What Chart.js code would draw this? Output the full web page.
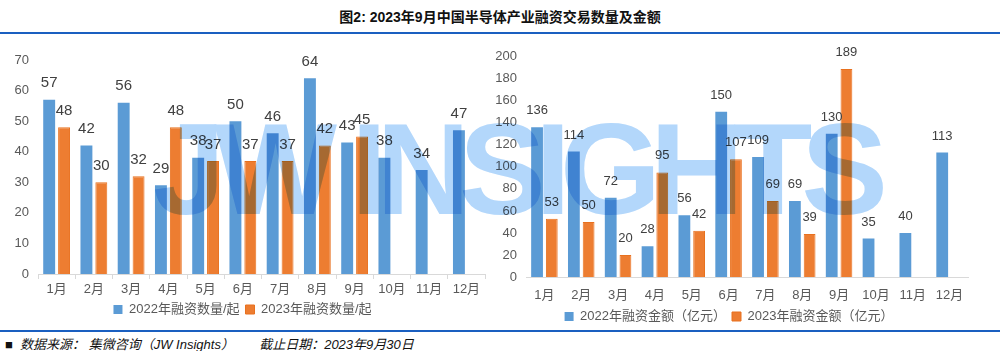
<!DOCTYPE html>
<html>
<head>
<meta charset="utf-8">
<script src="https://cdn.jsdelivr.net/npm/chart.js@4.4.0/dist/chart.umd.min.js"></script>
<style>
  html, body { margin: 0; padding: 0; background: #fff; }
  body { width: 1000px; height: 351px; position: relative; overflow: hidden;
         font-family: "Liberation Sans", "Noto Sans CJK SC", sans-serif; }
  #title { position: absolute; top: 6px; left: 0; width: 1000px; text-align: center;
           font-size: 14px; font-weight: bold; color: #111; }
  .rule { position: absolute; left: 0; width: 1000px; height: 2px; background: #1a5fc0; }
  #left { position: absolute; left: 0; top: 40px; }
  #right { position: absolute; left: 490px; top: 40px; }
  #footer { position: absolute; left: 5px; top: 334px; font-size: 13px; font-style: italic; color: #111; white-space: pre; }
  #mark { position: absolute; left: 153px; top: 104px; font-size: 130px; line-height: 1; font-weight: bold;
          letter-spacing: -11px; color: #b3d7fb; mix-blend-mode: multiply; pointer-events: none; white-space: pre; }
</style>
</head>
<body>
<div id="title">图2: 2023年9月中国半导体产业融资交易数量及金额</div>
<div class="rule" style="top:32px"></div>
<canvas id="left" width="490" height="286"></canvas>
<canvas id="right" width="510" height="293"></canvas>
<div class="rule" style="top:330px"></div>
<div id="footer"><span style="font-style:normal">■</span>  数据来源： 集微咨询（JW Insights）       截止日期：2023年9月30日</div>
<div id="mark">JW INSIGHTS</div>
<script>
const months = ['1月', '2月', '3月', '4月', '5月', '6月', '7月', '8月', '9月', '10月', '11月', '12月'];
const count2022 = [57, 42, 56, 29, 38, 50, 46, 64, 43, 38, 34, 47];
const count2023 = [48, 30, 32, 48, 37, 37, 37, 42, 45, null, null, null];
const amount2022 = [136, 114, 72, 28, 56, 150, 109, 69, 130, 35, 40, 113];
const amount2023 = [53, 50, 20, 95, 42, 107, 69, 39, 189, null, null, null];

const BLUE = '#5b9bd5';
const ORANGE = '#ed7d31';
const FONT = '"Liberation Sans", "Noto Sans CJK SC", sans-serif';

// value labels above each bar
const valueLabels = {
    id: 'valueLabels',
    afterDatasetsDraw(chart, args, opts) {
        const ctx = chart.ctx;
        ctx.save();
        ctx.font = opts.size + 'px ' + FONT;
        ctx.fillStyle = '#404040';
        ctx.textAlign = 'center';
        ctx.textBaseline = 'bottom';
        chart.data.datasets.forEach((ds, i) => {
            chart.getDatasetMeta(i).data.forEach((bar, j) => {
                if (ds.data[j] == null) return;
                ctx.fillText(ds.data[j], bar.x, bar.y - opts.gap);
            });
        });
        ctx.restore();
    }
};

function makeChart(id, labels, a, b, names, yMax, yStep, opts) {
    return new Chart(document.getElementById(id), {
        type: 'bar',
        data: {
            labels: labels,
            datasets: [
                { label: names[0], data: a, backgroundColor: BLUE, borderWidth: 0 },
                { label: names[1], data: b, backgroundColor: ORANGE, borderColor: '#e8711f', borderWidth: 1 }
            ]
        },
        options: {
            responsive: false,
            animation: false,
            categoryPercentage: 0.8,
            barPercentage: 0.8,
            layout: { padding: opts.padding },
            plugins: {
                legend: {
                    position: 'bottom',
                    labels: { boxWidth: 9, boxHeight: 9, padding: 6, color: '#595959', font: { family: FONT, size: 13 } }
                },
                tooltip: { enabled: false },
                valueLabels: { size: opts.labelSize, gap: opts.gap }
            },
            scales: {
                x: {
                    grid: { display: true, drawOnChartArea: false, drawTicks: opts.xTicks, tickLength: 5, color: '#d9d9d9' },
                    border: { display: true, color: '#d9d9d9' },
                    ticks: { color: '#595959', padding: opts.xPad, font: { family: FONT, size: 13 } },
                    afterFit(scale) { scale.height = opts.xHeight; }
                },
                y: {
                    min: 0, max: yMax,
                    grid: { display: false, drawTicks: false },
                    border: { display: false },
                    ticks: { stepSize: yStep, color: '#595959', padding: 9, font: { family: FONT, size: 13 } },
                    afterFit(scale) { scale.width = opts.yWidth; }
                }
            }
        },
        plugins: [valueLabels]
    });
}

makeChart('left', months, count2022, count2023, ['2022年融资数量/起', '2023年融资数量/起'], 70, 10,
    { padding: { left: 0, right: 5, top: 20, bottom: 0 }, labelSize: 15, gap: 9, xTicks: true, xPad: 3, xHeight: 23, yWidth: 38 });

makeChart('right', months, amount2022, amount2023, ['2022年融资金额（亿元）', '2023年融资金额（亿元）'], 200, 20,
    { padding: { left: 0, right: 32, top: 8, bottom: 0 }, labelSize: 13, gap: 10, xTicks: false, xPad: 11, xHeight: 27, yWidth: 36 });
</script>
</body>
</html>
